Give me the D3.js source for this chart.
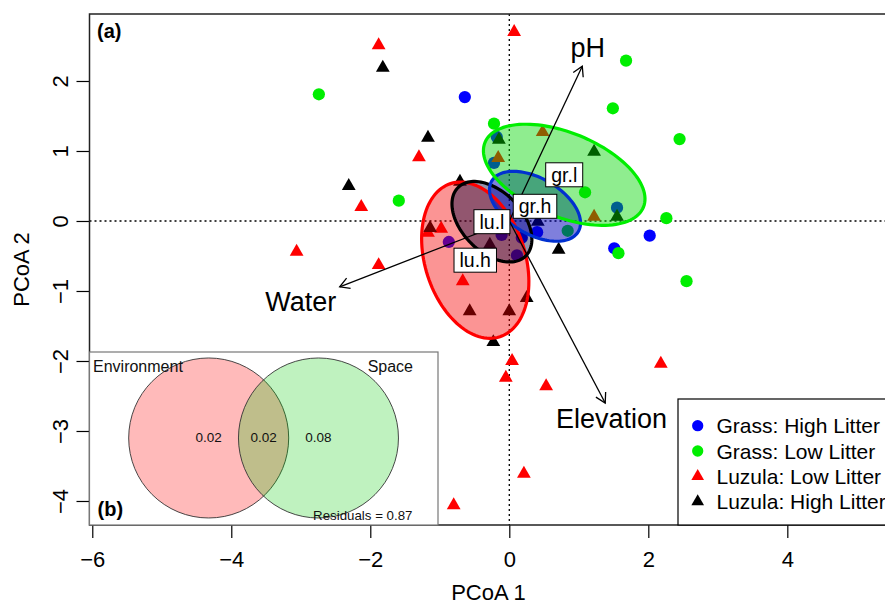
<!DOCTYPE html>
<html>
<head>
<meta charset="utf-8">
<script src="https://cdn.jsdelivr.net/npm/d3@7"></script>
<style>
  html, body { margin: 0; padding: 0; background: #fff; }
  svg { display: block; font-family: "Liberation Sans", Arial, Helvetica, sans-serif; }
</style>
</head>
<body>
<svg id="chart" width="885" height="604"></svg>
<script>
// ---------------- data ----------------
const grassHighX = [-0.64, -0.18, -0.22, 1.55, 2.02, 1.51, 0.40, -0.87, -0.11, 0.11, 0.18];
const grassHighY = [ 1.77,  1.20,  0.83, 0.19, -0.21, -0.39, -0.16, -0.30, -0.20, -0.49, -0.24];

const grassLowX = [-2.74, -0.22, -1.59, 1.68, 1.49, 2.45, 1.09, 2.26, 1.57, 2.55, 0.84];
const grassLowY = [ 1.81,  1.39,  0.29, 2.29, 1.61, 1.17, 0.41, 0.04, -0.46, -0.86, -0.14];

const luzLowX = [-1.88, 0.07, -1.30, -2.13, -3.06, -1.88, 0.48, -0.16, 1.22, -1.17, -0.98, -0.67, 0.04, -0.05, 0.53, 2.18, 0.21, -0.80];
const luzLowY = [ 2.51, 2.70,  0.91,  0.20, -0.44, -0.63, 1.27,  0.90, 0.06, -0.17, -0.11, -0.86, -2.00, -2.24, -2.36, -2.04, -3.61, -4.06];

const luzHighX = [-1.82, -1.17, -2.31, -0.15, 1.22, 1.55, -0.71, -1.14, -0.28, 0.41, 0.71, -0.57, 0.00, 0.25, -0.23];
const luzHighY = [ 2.19,  1.19,  0.50,  1.16, 0.99, 0.06,  0.56, -0.10, -0.34, -0.01, -0.41, -1.29, -1.29, -1.10, -1.73];

// group ellipses: centre, semi-axes (data units), rotation (degrees)
const ellipseNames = ["lu.h", "lu.l", "gr.h", "gr.l"];
const ellipseCX    = [-0.49, -0.25, 0.37, 0.79];
const ellipseCY    = [-0.56, -0.01, 0.21, 0.66];
const ellipseA     = [ 1.15,  0.69, 0.72, 1.23];
const ellipseB     = [ 0.72,  0.43, 0.40, 0.60];
const ellipseAngle = [-72, -45, -30, -22];

// environmental vectors
const vectorNames = ["pH", "Water", "Elevation"];
const vectorX = [1.05, -2.44, 1.38];
const vectorY = [2.21, -0.94, -2.60];
const vectorLabelX = [1.13, -3.00, 1.47];
const vectorLabelY = [2.47, -1.16, -2.83];

const xTicks = [-6, -4, -2, 0, 2, 4];
const yTicks = [-4, -3, -2, -1, 0, 1, 2];

const legendLabels = ["Grass: High Litter", "Grass: Low Litter", "Luzula: Low Litter", "Luzula: High Litter"];

// Venn inset (b)
const vennSetNames = ["Environment", "Space"];
const vennValues = [0.02, 0.02, 0.08];   // env only, shared, space only
const vennResidual = 0.87;

// ---------------- layout ----------------
const svg = d3.select("#chart");
const x = d3.scaleLinear().domain([-6.04, 5.44]).range([89.5, 887.4]);
const y = d3.scaleLinear().domain([-4.343, 2.957]).range([525, 14]);
const font = "'Liberation Sans', Arial, Helvetica, sans-serif";

const plot = svg.append("g");

// zero lines
plot.append("line").attr("x1", x(-6.04)).attr("x2", x(5.44)).attr("y1", y(0)).attr("y2", y(0))
  .attr("stroke", "#000").attr("stroke-width", 1.3).attr("stroke-dasharray", "2,3");
plot.append("line").attr("x1", x(0)).attr("x2", x(0)).attr("y1", y(2.957)).attr("y2", y(-4.343))
  .attr("stroke", "#000").attr("stroke-width", 1.3).attr("stroke-dasharray", "2,3");

// points
const circle = d3.symbol().type(d3.symbolCircle).size(118);
const tri = d3.symbol().type(d3.symbolTriangle).size(82);
function drawPts(xs, ys, sym, color) {
  plot.append("g").selectAll("path").data(xs.map((v, i) => [v, ys[i]])).join("path")
    .attr("d", sym)
    .attr("transform", d => `translate(${x(d[0])},${y(d[1])})`)
    .attr("fill", color);
}
drawPts(grassHighX, grassHighY, circle, "#0000ff");
drawPts(grassLowX, grassLowY, circle, "#00ee00");
drawPts(luzLowX, luzLowY, tri, "#ff0000");
drawPts(luzHighX, luzHighY, tri, "#000000");

// ellipses
const ellFill = ["rgba(245,0,0,0.42)", "rgba(0,0,60,0.42)", "rgba(0,0,185,0.5)", "rgba(0,215,0,0.44)"];
const ellStroke = ["#ff0000", "#000000", "#0030d0", "#00ee00"];
function ellipsePts(i) {
  const th = ellipseAngle[i] * Math.PI / 180;
  const pts = [];
  for (let k = 0; k <= 120; k++) {
    const t = k / 120 * 2 * Math.PI;
    const ex = ellipseCX[i] + ellipseA[i] * Math.cos(th) * Math.cos(t) - ellipseB[i] * Math.sin(th) * Math.sin(t);
    const ey = ellipseCY[i] + ellipseA[i] * Math.sin(th) * Math.cos(t) + ellipseB[i] * Math.cos(th) * Math.sin(t);
    pts.push([x(ex), y(ey)]);
  }
  return pts;
}
const line = d3.line().curve(d3.curveLinearClosed);
ellipseNames.forEach((n, i) => {
  plot.append("path").attr("d", line(ellipsePts(i))).attr("fill", ellFill[i]).attr("stroke", "none");
});
ellipseNames.forEach((n, i) => {
  plot.append("path").attr("d", line(ellipsePts(i))).attr("fill", "none")
    .attr("stroke", ellStroke[i]).attr("stroke-width", 3.2);
});

// vectors
vectorNames.forEach((n, i) => {
  const x0 = x(0), y0 = y(0), x1 = x(vectorX[i]), y1 = y(vectorY[i]);
  const ang = Math.atan2(y1 - y0, x1 - x0);
  const L = 11, a = Math.PI / 6;
  plot.append("line").attr("x1", x0).attr("y1", y0).attr("x2", x1).attr("y2", y1)
    .attr("stroke", "#000").attr("stroke-width", 1.3);
  plot.append("path")
    .attr("d", `M${x1 - L * Math.cos(ang - a)},${y1 - L * Math.sin(ang - a)}L${x1},${y1}L${x1 - L * Math.cos(ang + a)},${y1 - L * Math.sin(ang + a)}`)
    .attr("fill", "none").attr("stroke", "#000").attr("stroke-width", 1.3);
  plot.append("text").attr("x", x(vectorLabelX[i])).attr("y", y(vectorLabelY[i]))
    .attr("text-anchor", "middle").attr("dominant-baseline", "central")
    .attr("font-size", 27).attr("fill", "#000").text(n);
});

// ellipse labels
ellipseNames.forEach((n, i) => {
  const g = plot.append("g").attr("transform", `translate(${x(ellipseCX[i])},${y(ellipseCY[i])})`);
  const t = g.append("text").attr("text-anchor", "middle").attr("dominant-baseline", "central")
    .attr("font-size", 19.5).attr("fill", "#000").text(n);
  const w = t.node().getComputedTextLength() + 11;
  g.insert("rect", "text").attr("x", -w / 2).attr("y", -12).attr("width", w).attr("height", 24)
    .attr("fill", "#fff").attr("stroke", "#000").attr("stroke-width", 1);
});

// axes
const xAxis = svg.append("g").attr("transform", `translate(0,525)`)
  .call(d3.axisBottom(x).tickValues(xTicks).tickSize(13).tickPadding(6).tickFormat(d => d < 0 ? "\u2212" + Math.abs(d) : d));
xAxis.select(".domain").remove();
xAxis.selectAll("line").attr("stroke", "#000").attr("stroke-width", 1.2);
xAxis.selectAll("text").attr("font-size", 22).attr("font-family", font).attr("fill", "#000")
  .attr("dy", null).attr("y", 42);

const yAxis = svg.append("g").attr("transform", `translate(89.5,0)`)
  .call(d3.axisLeft(y).tickValues(yTicks).tickSize(13).tickFormat(d => d < 0 ? "\u2212" + Math.abs(d) : d));
yAxis.select(".domain").remove();
yAxis.selectAll("line").attr("stroke", "#000").attr("stroke-width", 1.2);
yAxis.selectAll("text").attr("font-size", 22).attr("font-family", font).attr("fill", "#000")
  .attr("x", null).attr("dy", null).attr("text-anchor", "middle")
  .attr("transform", "translate(-21.5,0) rotate(-90)");

// frame
svg.append("rect").attr("x", 89.5).attr("y", 14).attr("width", 887.4 - 89.5).attr("height", 511)
  .attr("fill", "none").attr("stroke", "#222").attr("stroke-width", 1.5);

// axis titles
svg.append("text").attr("x", (89.5 + 887.4) / 2).attr("y", 600).attr("text-anchor", "middle")
  .attr("font-size", 22).attr("fill", "#000").text("PCoA 1");
svg.append("text").attr("transform", `translate(29,${(14 + 525) / 2}) rotate(-90)`).attr("text-anchor", "middle")
  .attr("font-size", 22).attr("fill", "#000").text("PCoA 2");

svg.append("text").attr("x", 97).attr("y", 38).attr("font-size", 20).attr("font-weight", "bold").text("(a)");

// legend
const leg = svg.append("g");
leg.append("rect").attr("x", 678).attr("y", 399).attr("width", 220).attr("height", 126)
  .attr("fill", "#fff").attr("stroke", "#000").attr("stroke-width", 1.2);
const legCols = ["#0000ff", "#00ee00", "#ff0000", "#000000"];
const legSmallC = d3.symbol().type(d3.symbolCircle).size(100);
const legSmallT = d3.symbol().type(d3.symbolTriangle).size(70);
legendLabels.forEach((l, i) => {
  const cy = 425.7 + i * 25.3;
  leg.append("path").attr("d", i < 2 ? legSmallC : legSmallT)
    .attr("transform", `translate(697.7,${cy})`).attr("fill", legCols[i]);
  leg.append("text").attr("x", 716.5).attr("y", cy).attr("dominant-baseline", "central")
    .attr("font-size", 21).attr("fill", "#000").text(l);
});

// Venn inset
const vx = d3.scaleLinear().domain([0, 1]).range([89.5, 438]);
const vy = d3.scaleLinear().domain([0, 1]).range([525, 352]);
const inset = svg.append("g");
inset.append("rect").attr("x", vx(0)).attr("y", vy(1)).attr("width", vx(1) - vx(0)).attr("height", vy(0) - vy(1))
  .attr("fill", "#fff").attr("stroke", "#777").attr("stroke-width", 1.2);
const vennCX = [0.342, 0.657];
const vennR = 80;
inset.append("circle").attr("cx", vx(vennCX[0])).attr("cy", vy(0.503)).attr("r", vennR)
  .attr("fill", "rgba(255,0,0,0.27)").attr("stroke", "#333").attr("stroke-width", 0.9);
inset.append("circle").attr("cx", vx(vennCX[1])).attr("cy", vy(0.503)).attr("r", vennR)
  .attr("fill", "rgba(0,205,0,0.25)").attr("stroke", "#333").attr("stroke-width", 0.9);
const vennLabX = [vx(vennCX[0]), (vx(vennCX[0]) + vx(vennCX[1])) / 2, vx(vennCX[1])];
vennValues.forEach((v, i) => {
  inset.append("text").attr("x", vennLabX[i]).attr("y", vy(0.503)).attr("text-anchor", "middle")
    .attr("dominant-baseline", "central").attr("font-size", 13.5).attr("fill", "#111").text(v.toFixed(2));
});
inset.append("text").attr("x", 93).attr("y", 372).attr("font-size", 16).attr("fill", "#111").text(vennSetNames[0]);
inset.append("text").attr("x", 413).attr("y", 371.5).attr("text-anchor", "end").attr("font-size", 16).attr("fill", "#111").text(vennSetNames[1]);
inset.append("text").attr("x", 412.5).attr("y", 520).attr("text-anchor", "end").attr("font-size", 13.3).attr("fill", "#111")
  .text("Residuals = " + vennResidual.toFixed(2));
inset.append("text").attr("x", 97.5).attr("y", 516).attr("font-size", 20).attr("font-weight", "bold").text("(b)");
</script>
</body>
</html>
